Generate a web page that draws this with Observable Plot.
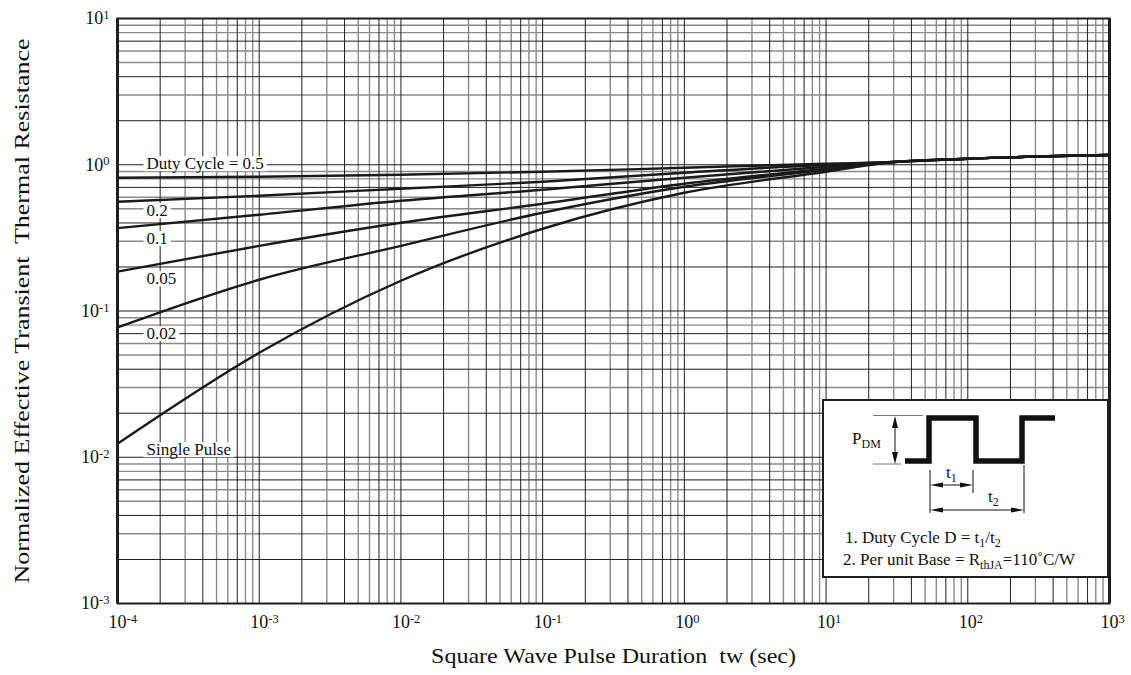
<!DOCTYPE html>
<html><head><meta charset="utf-8">
<script src="https://cdn.jsdelivr.net/npm/d3@7"></script>
<script src="https://cdn.jsdelivr.net/npm/@observablehq/plot@0.6"></script>
<style>
body{margin:0;background:#fff;}
svg text{white-space:pre;}
</style></head><body><div id="chart"></div>
<script>
// ---- data ----
const xTicks = [1e-4, 1e-3, 1e-2, 1e-1, 1, 10, 100, 1000];
const xTickLabels = ["10^-4", "10^-3", "10^-2", "10^-1", "10^0", "10^1", "10^2", "10^3"];
const yTicks = [1e-3, 1e-2, 1e-1, 1, 10];
const yTickLabels = ["10^-3", "10^-2", "10^-1", "10^0", "10^1"];

const pulseDuration = [1e-4, 1e-3, 1e-2, 1e-1, 1, 10, 30, 100, 1000];
const duty05 = [0.815, 0.828, 0.855, 0.896, 0.954, 1.016, 1.045, 1.10, 1.165];
const duty02 = [0.558, 0.614, 0.686, 0.765, 0.882, 1.000, 1.045, 1.10, 1.165];
const duty01 = [0.369, 0.455, 0.567, 0.675, 0.815, 0.969, 1.045, 1.10, 1.165];
const duty005 = [0.186, 0.279, 0.401, 0.541, 0.742, 0.939, 1.045, 1.10, 1.165];
const duty002 = [0.0772, 0.1636, 0.279, 0.470, 0.707, 0.924, 1.045, 1.10, 1.165];
const singlePulse = [0.01236, 0.0518, 0.161, 0.365, 0.643, 0.896, 1.045, 1.10, 1.165];

const seriesNames = ["0.5", "0.2", "0.1", "0.05", "0.02", "single"];
const seriesValues = [duty05, duty02, duty01, duty005, duty002, singlePulse];

const labelTexts = ["Duty Cycle = 0.5", "0.2", "0.1", "0.05", "0.02", "Single Pulse"];
const labelY = [1.016, 0.485, 0.312, 0.166, 0.0699, 0.01125];

const xTitle = "Square Wave Pulse Duration  tw (sec)";
const yTitle = "Normalized Effective Transient  Thermal Resistance";

// ---- build table ----
const rows = seriesNames.flatMap((s, i) => pulseDuration.map((t, j) => ({t, z: seriesValues[i][j], s})));
const labels = labelTexts.map((text, i) => ({text, y: labelY[i]}));

// grid lines (log paper: dark at 1,2,4,7 ; grey at 3,5,6,8,9)
const darkMult = [1, 2, 4, 7], greyMult = [3, 5, 6, 8, 9];
const gx = (mults) => d3.range(-4, 3).flatMap(e => mults.map(m => m * 10 ** e));
const gy = (mults) => d3.range(-3, 1).flatMap(e => mults.map(m => m * 10 ** e));
const gridXDark = gx(darkMult).concat([1000]), gridXGrey = gx(greyMult);
const gridYDark = gy(darkMult).concat([10]), gridYGrey = gy(greyMult);

const FONT = '"Liberation Serif","Times New Roman",serif';

const plot = Plot.plot({
  width: 1131, height: 675,
  marginLeft: 117, marginRight: 22, marginTop: 18, marginBottom: 72,
  style: {fontFamily: FONT, fontSize: "17px", color: "#111", background: "#fff"},
  x: {type: "log", domain: [1e-4, 1e3]},
  y: {type: "log", domain: [1e-3, 10]},
  marks: [
    Plot.ruleX(gridXGrey, {stroke: "#8a8a8a", strokeWidth: 1.4}),
    Plot.ruleY(gridYGrey, {stroke: "#8a8a8a", strokeWidth: 1.4}),
    Plot.ruleX(gridXDark, {stroke: "#1e1e1e", strokeWidth: 1}),
    Plot.ruleY(gridYDark, {stroke: "#1e1e1e", strokeWidth: 1}),
    Plot.axisX({ticks: xTicks, tickFormat: (d) => xTickLabels[xTicks.indexOf(d)], tickSize: 0, tickPadding: 12, label: null, fontSize: 18}),
    Plot.axisY({ticks: yTicks, tickFormat: (d) => yTickLabels[yTicks.indexOf(d)], tickSize: 0, tickPadding: 8, label: null, fontSize: 18}),
    Plot.line(rows, {x: "t", y: "z", z: "s", stroke: "#1a1a1a", strokeWidth: 2.4, curve: "monotone-x"}),
    Plot.text(labels, {x: () => 1e-4, y: "y", text: "text", textAnchor: "start", dx: 29, fontSize: 17, fill: "#111"}),
    Plot.frame({stroke: "#1e1e1e", strokeWidth: 2}),
    Plot.ruleX([1e-4, 1e3], {stroke: "#1e1e1e", strokeWidth: 3}),
    Plot.text([xTitle], {frameAnchor: "bottom", textAnchor: "middle", dy: 59, fontSize: 21, fill: "#111"}),
    Plot.text([yTitle], {frameAnchor: "left", textAnchor: "middle", rotate: -90, dx: -95, fontSize: 21, fill: "#111"})
  ]
});
document.getElementById("chart").appendChild(plot);

const svg = d3.select(plot);

// superscript tick labels
function supify(sel, centerBase) {
  sel.each(function() {
    const t = d3.select(this);
    const s = t.text();
    if (!s.includes("^")) return;
    const [base, exp] = s.split("^");
    t.text("");
    const b = t.append("tspan").text(base);
    const e = t.append("tspan").text(exp).attr("font-size", 12.5).attr("dy", "-0.42em");
    if (centerBase) {
      const w = e.node().getComputedTextLength();
      b.attr("dx", w / 2);
    }
  });
}
supify(svg.selectAll('g[aria-label="x-axis tick label"] text'), true);
supify(svg.selectAll('g[aria-label="y-axis tick label"] text'), false);

// titles stretched to the reference width
svg.selectAll("text").filter(function() { return this.textContent === xTitle; })
  .attr("textLength", 365).attr("lengthAdjust", "spacingAndGlyphs");
svg.selectAll("text").filter(function() { return this.textContent === yTitle; })
  .attr("textLength", 545).attr("lengthAdjust", "spacingAndGlyphs");

// white boxes behind curve labels (same transform as the text)
svg.selectAll("text").filter(function() { return labelTexts.includes(this.textContent); }).each(function() {
  const bb = this.getBBox();
  const r = document.createElementNS("http://www.w3.org/2000/svg", "rect");
  r.setAttribute("x", bb.x - 3); r.setAttribute("y", bb.y + 2);
  r.setAttribute("width", bb.width + 6); r.setAttribute("height", bb.height - 4);
  r.setAttribute("fill", "#fff"); r.setAttribute("stroke", "none");
  const tr = this.getAttribute("transform");
  if (tr) r.setAttribute("transform", tr);
  this.parentNode.insertBefore(r, this);
});

// ---- inset diagram ----
const xs = plot.scale("x"), ys = plot.scale("y");
const bx = xs.apply(1000) - 286, by = ys.apply(1e-3) - 203;
const g = svg.append("g").attr("transform", `translate(${bx},${by})`)
  .attr("font-family", FONT).attr("fill", "#111").attr("text-anchor", "start");
g.append("rect").attr("x", 0).attr("y", 0).attr("width", 285).attr("height", 177).attr("fill", "#fff").attr("stroke", "#1e1e1e").attr("stroke-width", 2);
// reference lines
g.append("line").attr("x1", 50).attr("x2", 100).attr("y1", 15.5).attr("y2", 15.5).attr("stroke", "#777").attr("stroke-width", 1);
g.append("line").attr("x1", 50).attr("x2", 78).attr("y1", 64).attr("y2", 64).attr("stroke", "#777").attr("stroke-width", 1);
// waveform
g.append("path").attr("d", "M82,61H106V18H153V61H199V18H232").attr("fill", "none").attr("stroke", "#111").attr("stroke-width", 5.5);
// arrows
function arrowV(x, y1, y2) {
  g.append("line").attr("x1", x).attr("x2", x).attr("y1", y1 + 8).attr("y2", y2 - 8).attr("stroke", "#111").attr("stroke-width", 1);
  g.append("path").attr("d", `M${x},${y1}L${x - 3},${y1 + 12}L${x + 3},${y1 + 12}Z`).attr("fill", "#111");
  g.append("path").attr("d", `M${x},${y2}L${x - 3},${y2 - 12}L${x + 3},${y2 - 12}Z`).attr("fill", "#111");
}
function arrowH(y, x1, x2) {
  g.append("line").attr("x1", x1 + 8).attr("x2", x2 - 8).attr("y1", y).attr("y2", y).attr("stroke", "#111").attr("stroke-width", 1);
  g.append("path").attr("d", `M${x1},${y}L${x1 + 13},${y - 2.5}L${x1 + 13},${y + 2.5}Z`).attr("fill", "#111");
  g.append("path").attr("d", `M${x2},${y}L${x2 - 13},${y - 2.5}L${x2 - 13},${y + 2.5}Z`).attr("fill", "#111");
}
arrowV(72, 16, 64);
const vline = (x, y1, y2) => g.append("line").attr("x1", x).attr("x2", x).attr("y1", y1).attr("y2", y2).attr("stroke", "#111").attr("stroke-width", 1);
vline(107, 70, 113); vline(150, 70, 93); vline(201, 65, 113);
arrowH(85, 107, 150);
arrowH(110, 107, 201);
// texts with subscripts
function subText(x, y, parts) {
  const t = g.append("text").attr("x", x).attr("y", y).attr("font-size", 17);
  let prevSub = false;
  parts.forEach(([s, sub]) => {
    const ts = t.append("tspan").text(s);
    if (sub) { ts.attr("font-size", 12).attr("dy", prevSub ? 0 : 4); }
    else if (prevSub) { ts.attr("dy", -4); }
    prevSub = !!sub;
  });
  return t;
}
subText(29, 44, [["P", 0], ["DM", 1]]);
subText(123, 78, [["t", 0], ["1", 1]]);
subText(165, 102, [["t", 0], ["2", 1]]);
subText(22, 143, [["1. Duty Cycle D = t", 0], ["1", 1], ["/t", 0], ["2", 1]]);
subText(20, 165, [["2. Per unit Base = R", 0], ["thJA", 1], ["=110˚C/W", 0]]);
</script></body></html>
